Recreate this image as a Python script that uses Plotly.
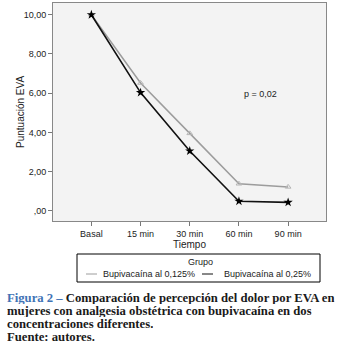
import plotly.graph_objects as go

categories = ["Basal", "15 min", "30 min", "60 min", "90 min"]
bupi_0125 = [10.0, 6.52, 3.95, 1.38, 1.22]
bupi_025 = [10.0, 6.03, 3.05, 0.49, 0.43]
y_tickvals = [0, 2, 4, 6, 8, 10]
y_ticktext = [",00", "2,00", "4,00", "6,00", "8,00", "10,00"]
series_names = ["Bupivacaína al 0,125%", "Bupivacaína al 0,25%"]
series_colors = ["#9c9c9c", "#111111"]

W, H = 341, 357
L, R, T, B = 53, 15, 3, 136
plot_h = H - T - B
plot_w = W - L - R

def py(p):
    return (H - B - p) / plot_h

def px(p):
    return (p - L) / plot_w

fig = go.Figure()
fig.add_trace(go.Scatter(x=categories, y=bupi_0125, mode="lines+markers",
                         name=series_names[0],
                         line=dict(color=series_colors[0], width=1.5),
                         marker=dict(symbol="triangle-up-open", size=5, color="#b5b5b5"),
                         showlegend=False))
fig.add_trace(go.Scatter(x=categories, y=bupi_025, mode="lines+markers",
                         name=series_names[1],
                         line=dict(color=series_colors[1], width=1.6),
                         marker=dict(symbol="star", size=7, color="#000000"),
                         showlegend=False))

fig.update_layout(
    width=W, height=H,
    margin=dict(l=L, r=R, t=T, b=B, autoexpand=False),
    paper_bgcolor="white",
    plot_bgcolor="#f3f3f3",
    font=dict(family="Liberation Sans, Arial, sans-serif", size=9, color="#222"),
    xaxis=dict(range=[-0.78, 4.77], showgrid=False, zeroline=False,
               ticks="outside", ticklen=4, tickcolor="#777",
               showline=True, linecolor="#888", mirror=True,
               title=dict(text="Tiempo", font=dict(size=10), standoff=3),
               tickfont=dict(size=9)),
    yaxis=dict(range=[-0.52, 10.6], showgrid=False, zeroline=False,
               tickvals=y_tickvals, ticktext=y_ticktext,
               ticks="outside", ticklen=4, tickcolor="#777",
               showline=True, linecolor="#888", mirror=True,
               tickfont=dict(size=9)),
    showlegend=False,
)

# y-axis title
fig.add_annotation(x=px(20), y=py(112), xref="paper", yref="paper", text="Puntuación EVA",
                   textangle=-90, showarrow=False, xanchor="center", yanchor="middle",
                   font=dict(size=10, color="#222"))

fig.add_annotation(x=3.43, y=5.95, xref="x", yref="y", text="p = 0,02",
                   showarrow=False, font=dict(size=9, color="#222"))

# manual legend box
fig.add_shape(type="rect", xref="paper", yref="paper",
              x0=px(77), x1=px(320), y0=py(282), y1=py(254),
              line=dict(color="#000", width=1), fillcolor="white")
fig.add_annotation(x=px(200), y=py(262), xref="paper", yref="paper", text="Grupo",
                   showarrow=False, xanchor="center", yanchor="middle",
                   font=dict(size=9, color="#222"))
leg_items = [(86, 97, 101), (202, 213, 222)]
for (lx0, lx1, tx), name, col in zip(leg_items, series_names, series_colors):
    fig.add_shape(type="line", xref="paper", yref="paper",
                  x0=px(lx0), x1=px(lx1), y0=py(274), y1=py(274),
                  line=dict(color=col, width=1))
    fig.add_annotation(x=px(tx), y=py(274), xref="paper", yref="paper", text=name,
                       showarrow=False, xanchor="left", yanchor="middle",
                       font=dict(size=9, color="#222"))

blue = "#3f73b5"
dark = "#1a1a1a"
cap_font = "Liberation Serif, DejaVu Serif, serif"
lines = [
    f"<b><span style='color:{blue}'>Figura 2 –</span> Comparación de percepción del dolor por EVA en</b>",
    "<b>mujeres con analgesia obstétrica con bupivacaína en dos</b>",
    "<b>concentraciones diferentes.</b>",
    "<b>Fuente: autores.</b>",
]
ys = [298, 311, 324, 337]
for t, yy in zip(lines, ys):
    fig.add_annotation(x=px(5), y=py(yy), xref="paper", yref="paper", text=t,
                       showarrow=False, xanchor="left", yanchor="middle", align="left",
                       height=12, font=dict(family=cap_font, size=12.7, color=dark))

fig.write_html("out.html", config={"displayModeBar": False},
               post_script="document.body.style.margin='0';document.body.style.overflow='hidden';")
